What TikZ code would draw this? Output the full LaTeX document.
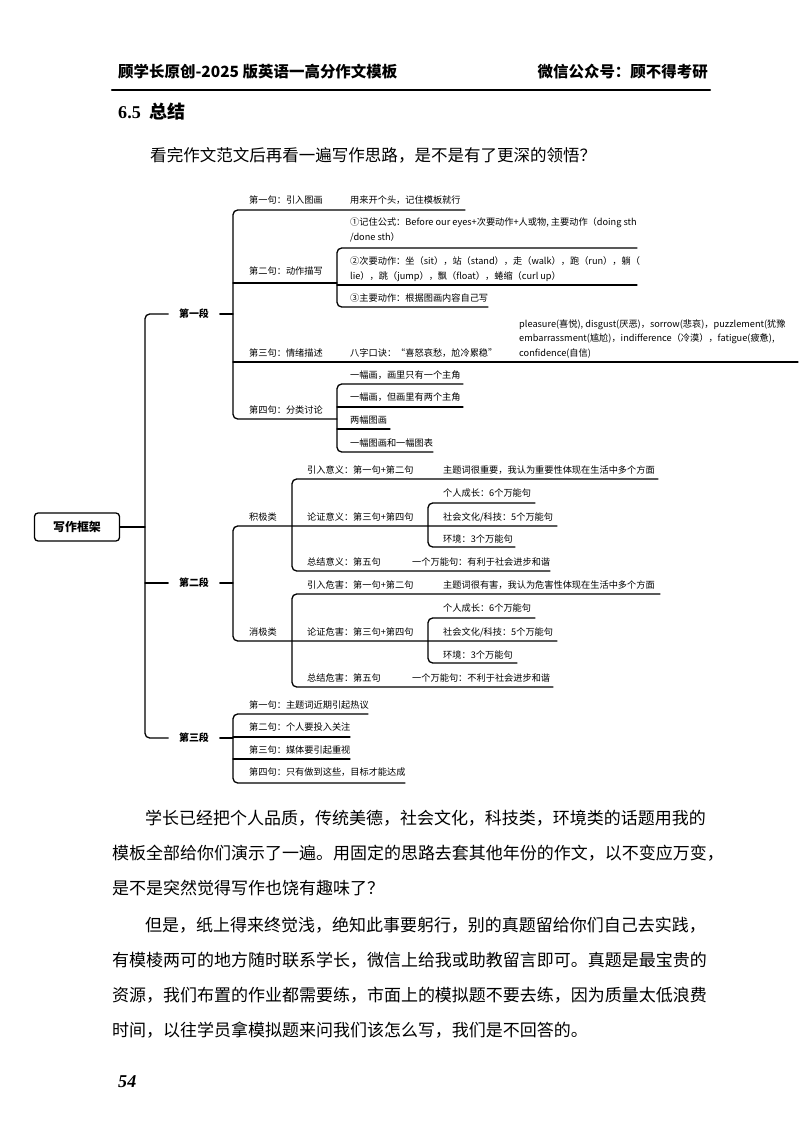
\documentclass[tikz,border=0pt]{standalone}
\usepackage{fontspec}
\setmainfont{Noto Sans CJK SC}
\newfontfamily\numfont{Liberation Serif}
\tikzset{
  ln/.style={line width=1.1pt, rounded corners=4pt},
  t/.style={anchor=west, inner sep=0pt, align=left, font=\fontsize{7.85pt}{12.8pt}\selectfont},
  lvone/.style={inner xsep=3.2mm, inner ysep=0pt, font=\fontsize{8.5pt}{10pt}\selectfont\bfseries},
  rootbox/.style={draw, line width=1.1pt, rounded corners=3pt, minimum width=25.5mm, minimum height=8.4mm, font=\fontsize{10.2pt}{12pt}\selectfont\bfseries},
  body/.style={anchor=west, inner sep=0pt, font=\fontsize{14.5pt}{17pt}\selectfont}
}
\begin{document}
\begin{tikzpicture}[x=0.3mm, y=-0.3mm, line cap=round, line join=round]
	\path[use as bounding box, fill=white] (0,0) rectangle (800,1130);
	% header
	\node[anchor=west, inner sep=0pt, font=\fontsize{13.2pt}{15pt}\selectfont\bfseries] (hl) at (118,72) {顾学长原创-2025 版英语一高分作文模板};
	\node[anchor=east, inner sep=0pt, font=\fontsize{13.2pt}{15pt}\selectfont\bfseries] (hr) at (708,72) {微信公众号：顾不得考研};
	\draw[line width=1.8pt] (112,90) -- (710,90);
	\node[anchor=west, inner sep=0pt, font=\fontsize{15.4pt}{18pt}\selectfont\bfseries] (sec) at (118,112) {{\numfont 6.5}\hspace{2.5mm}总结};
	\node[body, font=\fontsize{14.1pt}{17pt}\selectfont] (intro) at (150,155) {看完作文范文后再看一遍写作思路，是不是有了更深的领悟？};
	% mind map: root and paragraphs
	\node[rootbox] (root) at (77,527) {写作框架};
	\node[lvone] (p1) at (194,314) {第一段};
	\node[lvone] (p2) at (194,583) {第二段};
	\node[lvone] (p3) at (194,738) {第三段};
	\draw[ln] (root.east) -- (145,527);
	\draw[ln] (p1.west) -| (145,527) |- (p3.west);
	\draw[ln] (p2.west) -- (145,583);
	\draw[ln] (p1.east) -- (233,314);
	\draw[ln] (p2.east) -- (233,583);
	\draw[ln] (p3.east) -- (233,738);
	% first paragraph
	\node[t] (a1) at (249,200) {第一句：引入图画};
	\node[t] (a1x) at (350,200) {用来开个头，记住模板就行};
	\node[t] (a2) at (249,271) {第二句：动作描写};
	\node[t] (b1) at (350,229.5) {①记住公式：Before our eyes+次要动作+人或物, 主要动作（doing sth\\/done sth）};
	\node[t] (b2) at (350,269.5) {②次要动作：坐（sit），站（stand），走（walk），跑（run），躺（\\lie），跳（jump），飘（float），蜷缩（curl up）};
	\node[t] (b3) at (350,298) {③主要动作：根据图画内容自己写};
	\node[t] (a3) at (249,353) {第三句：情绪描述};
	\node[t] (a3x) at (350,353) {八字口诀：“喜怒哀愁，尬冷累稳”};
	\node[t] (a3y) at (519,339) {pleasure(喜悦), disgust(厌恶)，sorrow(悲哀)，puzzlement(犹豫\\embarrassment(尴尬)，indifference（冷漠），fatigue(疲惫),\\confidence(自信)};
	\node[t] (a4) at (249,410) {第四句：分类讨论};
	\node[t] (c1) at (350,375) {一幅画，画里只有一个主角};
	\node[t] (c2) at (350,397) {一幅画，但画里有两个主角};
	\node[t] (c3) at (350,420) {两幅图画};
	\node[t] (c4) at (350,443) {一幅图画和一幅图表};
	\draw[ln] (465,210) -- (233,210) -- (233,419) -- (337,419);
	\draw[ln] (233,283) -- (337,283);
	\draw[ln] (233,362) -- (798,362);
	\draw[ln] (637,248) -- (337,248) -- (337,307) -- (488,307);
	\draw[ln] (337,285) -- (637,285);
	\draw[ln] (463,384) -- (337,384) -- (337,452) -- (433,452);
	\draw[ln] (337,407) -- (463,407);
	\draw[ln] (337,429) -- (390,429);
	% second paragraph
	\node[t] (d1) at (249,517) {积极类};
	\node[t] (d2) at (249,632) {消极类};
	\node[t] (e1) at (307,470) {引入意义：第一句+第二句};
	\node[t] (e1x) at (443,470) {主题词很重要，我认为重要性体现在生活中多个方面};
	\node[t] (e2) at (307,517) {论证意义：第三句+第四句};
	\node[t] (e3) at (307,562) {总结意义：第五句};
	\node[t] (e3x) at (412,562) {一个万能句：有利于社会进步和谐};
	\node[t] (f1) at (443,493) {个人成长：6个万能句};
	\node[t] (f2) at (443,517) {社会文化/科技：5个万能句};
	\node[t] (f3) at (443,539) {环境：3个万能句};
	\node[t] (g1) at (307,585) {引入危害：第一句+第二句};
	\node[t] (g1x) at (443,585) {主题词很有害，我认为危害性体现在生活中多个方面};
	\node[t] (g2) at (307,632) {论证危害：第三句+第四句};
	\node[t] (g3) at (307,678) {总结危害：第五句};
	\node[t] (g3x) at (412,678) {一个万能句：不利于社会进步和谐};
	\node[t] (h1) at (443,608) {个人成长：6个万能句};
	\node[t] (h2) at (443,632) {社会文化/科技：5个万能句};
	\node[t] (h3) at (443,655) {环境：3个万能句};
	\draw[ln] (557,526) -- (233,526) -- (233,641) -- (557,641);
	\draw[ln] (658,479) -- (292,479) -- (292,571) -- (550,571);
	\draw[ln] (535,503) -- (428,503) -- (428,547) -- (515,547);
	\draw[ln] (660,594) -- (292,594) -- (292,687) -- (553,687);
	\draw[ln] (535,618) -- (428,618) -- (428,663) -- (517,663);
	% third paragraph
	\node[t] (k1) at (249,705) {第一句：主题词近期引起热议};
	\node[t] (k2) at (249,727) {第二句：个人要投入关注};
	\node[t] (k3) at (249,750) {第三句：媒体要引起重视};
	\node[t] (k4) at (249,772) {第四句：只有做到这些，目标才能达成};
	\draw[ln] (368,714) -- (233,714) -- (233,783) -- (405,783);
	\draw[ln] (233,737) -- (350,737);
	\draw[ln] (233,759) -- (350,759);
	% text below the map
	\foreach \yy/\xx/\tt [count=\i] in {
		818/145/学长已经把个人品质，传统美德，社会文化，科技类，环境类的话题用我的,
		853/112/模板全部给你们演示了一遍。用固定的思路去套其他年份的作文，以不变应万变，,
		888/112/是不是突然觉得写作也饶有趣味了？,
		925/145/但是，纸上得来终觉浅，绝知此事要躬行，别的真题留给你们自己去实践，,
		960/112/有模棱两可的地方随时联系学长，微信上给我或助教留言即可。真题是最宝贵的,
		995/112/资源，我们布置的作业都需要练，市面上的模拟题不要去练，因为质量太低浪费,
		1030/112/时间，以往学员拿模拟题来问我们该怎么写，我们是不回答的。}
	\node[body] (L\i) at (\xx,\yy) {\tt};
	\node[anchor=west, inner sep=0pt, font={\numfont\fontsize{15.4pt}{18pt}\selectfont\itshape\bfseries}] (pg) at (118,1082) {54};
\end{tikzpicture}
\end{document}
